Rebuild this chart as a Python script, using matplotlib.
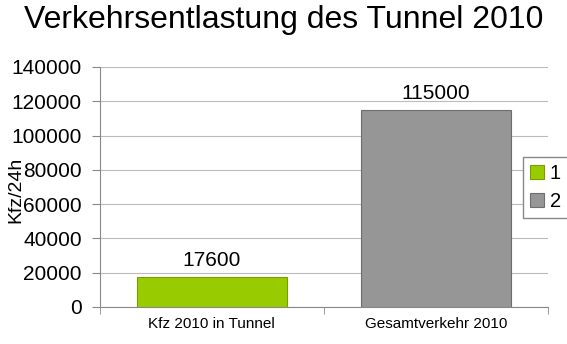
import matplotlib.pyplot as plt
from matplotlib.ticker import FixedLocator

plt.rcParams["font.family"] = ["Liberation Sans", "DejaVu Sans"]

categories = ["Kfz 2010 in Tunnel", "Gesamtverkehr 2010"]
values = [17600, 115000]
legend_labels = ["1", "2"]
colors = ["#99cc00", "#969696"]
edges = ["#7a9e00", "#6e6e6e"]

fig = plt.figure(figsize=(5.67, 3.44), dpi=100)
ax = fig.add_axes([0.176, 0.1076, 0.79, 0.6977])

x = list(range(len(categories)))
for i in x:
    ax.bar(x[i], values[i], width=0.67, color=colors[i], edgecolor=edges[i],
           linewidth=0.8, label=legend_labels[i], zorder=3)
    ax.annotate(f"{values[i]}", (x[i], values[i]), xytext=(0, 5),
                textcoords="offset points", ha="center", va="bottom", fontsize=15)

ax.set_xlim(-0.5, len(categories) - 0.5)
ax.set_ylim(0, 140000)
ax.set_yticks(range(0, 140001, 20000))
ax.tick_params(axis="y", labelsize=15, length=6, color="#888888", pad=7)

ax.set_xticks(x)
ax.set_xticklabels(categories, fontsize=11)
ax.tick_params(axis="x", which="major", length=0, pad=7)
ax.xaxis.set_minor_locator(FixedLocator([-0.5, 0.5, 1.5]))
ax.tick_params(axis="x", which="minor", length=5, color="#888888")

ax.grid(axis="y", color="#bbbbbb", linewidth=0.8, zorder=0)
for side in ["top", "right"]:
    ax.spines[side].set_visible(False)
for side in ["left", "bottom"]:
    ax.spines[side].set_color("#888888")

ax.set_ylabel("Kfz/24h", fontsize=14)
ax.yaxis.set_label_coords(-0.168, 0.49)

fig.suptitle("Verkehrsentlastung des Tunnel 2010", fontsize=23, y=0.985)

leg = fig.legend(loc="upper left", bbox_to_anchor=(0.922, 0.544), fontsize=14.5,
                 fancybox=False, framealpha=1, edgecolor="#888888",
                 handlelength=0.7, handleheight=0.7, handletextpad=0.3,
                 borderpad=0.35, borderaxespad=0, labelspacing=0.45)

fig.savefig("out.png", dpi=100)
